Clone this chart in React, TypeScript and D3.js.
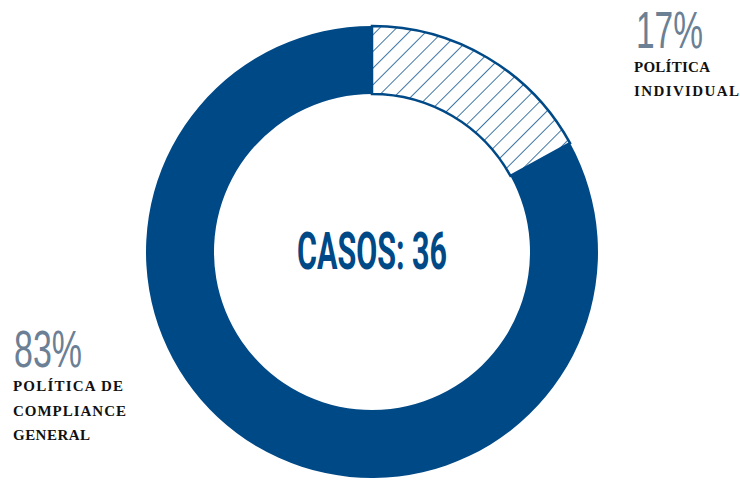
import React from 'react';
import * as d3 from 'd3';

const categories = ['POLÍTICA INDIVIDUAL', 'POLÍTICA DE COMPLIANCE GENERAL'];
const shares = [17, 83];
const totalCases = 36;

const BLUE = '#004987';
const GREY = '#6b7f95';

export default function App() {
  const width = 740;
  const height = 481;
  const cx = 372;
  const cy = 252;
  const outerR = 226;
  const innerR = 158;

  const pie = d3.pie<number>().sort(null).value(d => d);
  const arcs = pie(shares);
  const arc = d3.arc<d3.PieArcDatum<number>>().innerRadius(innerR).outerRadius(outerR);

  const condensed = { fontFamily: '"Liberation Sans", Roboto, sans-serif' };
  const serif = {
    fontFamily: '"Liberation Serif", "DejaVu Serif", serif',
    fontWeight: 700,
    fontSize: 15,
    fill: '#111',
  };

  // label lines with their measured widths in the reference
  const rightLines: [string, number][] = [['POLÍTICA', 76], ['INDIVIDUAL', 105]];
  const leftLines: [string, number][] = [['POLÍTICA DE', 110], ['COMPLIANCE', 113], ['GENERAL', 77]];

  return (
    <div style={{ position: 'absolute', left: 0, top: 0, width, height, background: '#fff' }}>
      <svg width={width} height={height} style={{ display: 'block' }}>
        <defs>
          <pattern id="hatch" width="11.8" height="11.8" patternUnits="userSpaceOnUse" patternTransform="rotate(45)">
            <line x1="0" y1="0" x2="0" y2="11.8" stroke={BLUE} strokeWidth={1.5} />
          </pattern>
        </defs>
        <g transform={`translate(${cx},${cy})`}>
          {arcs.map((a, i) => (
            <path
              key={categories[i]}
              d={arc(a) || ''}
              fill={i === 0 ? 'url(#hatch)' : BLUE}
              stroke={BLUE}
              strokeWidth={i === 0 ? 2.5 : 0}
            />
          ))}
          <text
            x={0}
            y={17}
            textAnchor="middle"
            fill={BLUE}
            style={{ fontFamily: 'Roboto, sans-serif', fontSize: 52, fontWeight: 700 }}
            textLength={150}
            lengthAdjust="spacingAndGlyphs"
          >
            {`CASOS: ${totalCases}`}
          </text>
        </g>

        {/* 17% label */}
        <text x={636} y={48} fill={GREY} style={{ ...condensed, fontSize: 51 }} textLength={67} lengthAdjust="spacingAndGlyphs">
          {`${shares[0]}%`}
        </text>
        {rightLines.map(([t, w], i) => (
          <text key={t} x={634} y={72 + i * 24} style={serif} textLength={w} lengthAdjust="spacing">
            {t}
          </text>
        ))}

        {/* 83% label */}
        <text x={14} y={367} fill={GREY} style={{ ...condensed, fontSize: 51 }} textLength={68} lengthAdjust="spacingAndGlyphs">
          {`${shares[1]}%`}
        </text>
        {leftLines.map(([t, w], i) => (
          <text key={t} x={13} y={391 + i * 24.5} style={serif} textLength={w} lengthAdjust="spacing">
            {t}
          </text>
        ))}
      </svg>
    </div>
  );
}
